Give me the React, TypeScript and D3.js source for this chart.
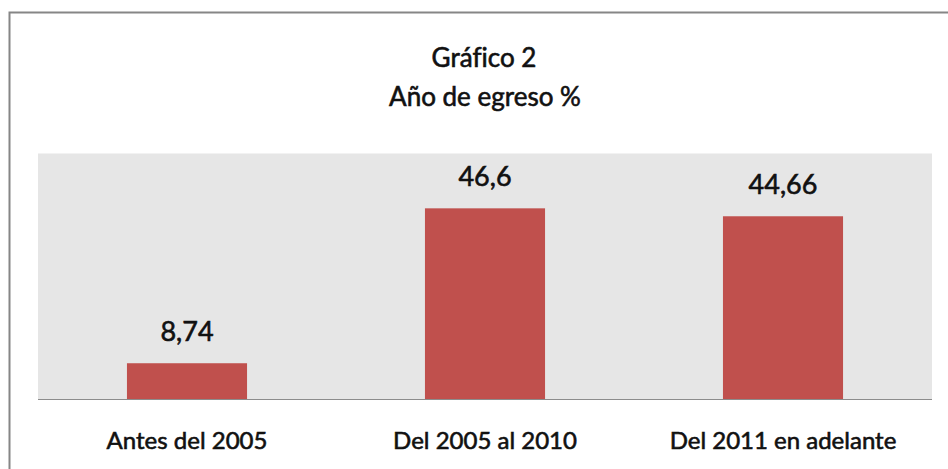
import React from "react";
import * as d3 from "d3";

const categories = ["Antes del 2005", "Del 2005 al 2010", "Del 2011 en adelante"];
const values = [8.74, 46.6, 44.66];
const valueLabels = ["8,74", "46,6", "44,66"];
const titleLines = ["Gráfico 2", "Año de egreso %"];

const W = 948;
const H = 469;
const plot = { left: 38, right: 932, top: 153.5, bottom: 399 };
const FONT = "Lato, 'Open Sans', sans-serif";

const textStyle = { fontVariantLigatures: "none" as const };

export default function App() {
  const x = d3
    .scaleBand<string>()
    .domain(categories)
    .range([plot.left, plot.right])
    .paddingInner(0.597)
    .paddingOuter(0.2985);
  const y = d3.scaleLinear().domain([0, 60]).range([plot.bottom, plot.top]);

  return (
    <svg
      width={W}
      height={H}
      style={{ position: "absolute", left: 0, top: 0, background: "#fff" }}
      fontFamily={FONT}
    >
      <rect x={9.5} y={12.5} width={W + 20} height={H + 20} fill="#fff" stroke="#868686" strokeWidth={2} />
      <rect
        x={plot.left}
        y={plot.top}
        width={plot.right - plot.left}
        height={plot.bottom - plot.top}
        fill="#E6E6E6"
      />
      {categories.map((c, i) => (
        <rect
          key={c}
          x={x(c)!}
          y={y(values[i])}
          width={x.bandwidth()}
          height={y(0) - y(values[i])}
          fill="#C0504D"
        />
      ))}
      <line x1={plot.left} x2={plot.right} y1={plot.bottom + 0.5} y2={plot.bottom + 0.5} stroke="#8C8C8C" strokeWidth={1} />
      <g fill="#111" stroke="#111" strokeWidth={0.6} style={textStyle}>
        {categories.map((c, i) => (
          <text
            key={"v" + c}
            x={x(c)! + x.bandwidth() / 2}
            y={y(values[i]) - 22}
            textAnchor="middle"
            fontSize={27}
          >
            {valueLabels[i]}
          </text>
        ))}
        {categories.map((c) => (
          <text
            key={"c" + c}
            x={x(c)! + x.bandwidth() / 2}
            y={449}
            textAnchor="middle"
            fontSize={24}
          >
            {c}
          </text>
        ))}
        <text x={484} y={67} textAnchor="middle" fontSize={26}>
          {titleLines[0]}
        </text>
        <text x={485} y={106} textAnchor="middle" fontSize={26}>
          {titleLines[1]}
        </text>
      </g>
    </svg>
  );
}
